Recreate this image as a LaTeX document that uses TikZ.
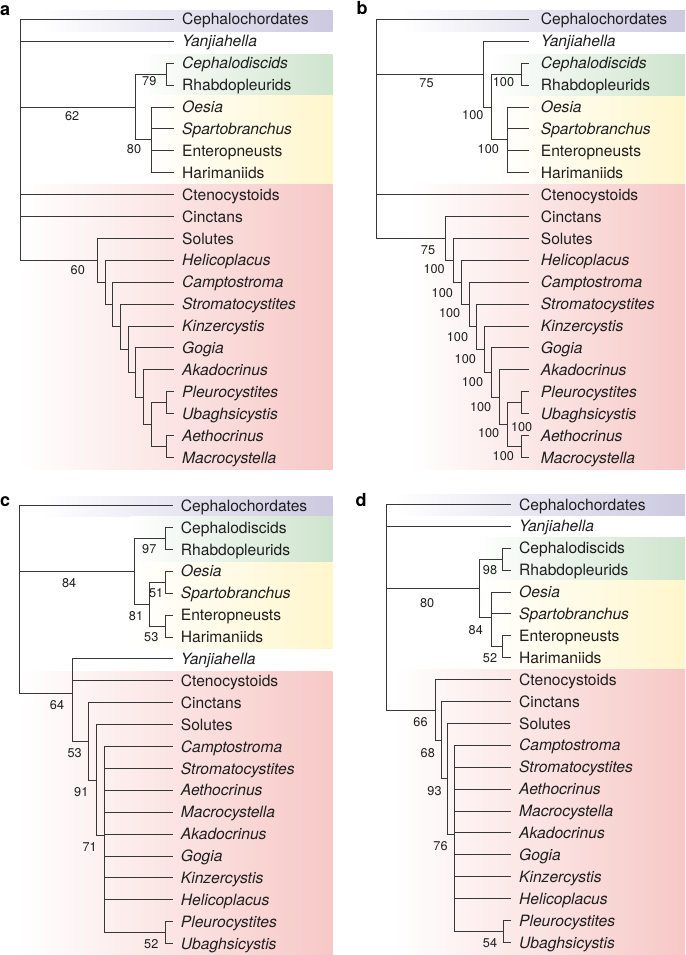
\documentclass[tikz,border=0pt]{standalone}
\usepackage{fontspec}
\setmainfont{TeX Gyre Heros}
\definecolor{bandP}{RGB}{204,201,224}
\definecolor{bandG}{RGB}{206,228,205}
\definecolor{bandY}{RGB}{255,246,204}
\definecolor{bandR}{RGB}{246,200,198}
\definecolor{brc}{RGB}{55,55,55}
\definecolor{txc}{RGB}{30,30,30}
\begin{document}
\begin{tikzpicture}[x=1pt,y=-1pt,
  br/.style={draw=brc, line width=0.95pt},
  tx/.style={anchor=base west, inner sep=0pt, yshift=-5.6pt, font=\fontsize{15.6}{18}\selectfont, text=txc},
  txi/.style={tx, font=\fontsize{15.6}{18}\selectfont\itshape},
  bs/.style={inner sep=0pt, font=\fontsize{12.7}{14}\selectfont, text=txc},
  plab/.style={anchor=base west, inner sep=0pt, font=\fontsize{18}{20}\selectfont\bfseries, text=black}]
\useasboundingbox (0,0) rectangle (685,955);
\fill[white] (0,0) rectangle (685,955);
\def\ya{19.4}
\def\yc{505.6}
\def\yd{504.4}
% ---------------- bands ----------------
% panel a
\shade[left color=white, right color=bandP] (40,10.7) rectangle (332.7,31.7);
\shade[left color=white, right color=bandG] (140,55) rectangle (332.7,95.7);
\shade[left color=white, right color=bandY] (140,95.7) rectangle (332.7,184.3);
\shade[left color=white, right color=bandR] (20,184.3) rectangle (332.7,469.3);
% panel b
\shade[left color=white, right color=bandP] (400,10.7) rectangle (685,31.7);
\shade[left color=white, right color=bandG] (490,55) rectangle (685,96.7);
\shade[left color=white, right color=bandY] (490,96.7) rectangle (685,184.3);
\shade[left color=white, right color=bandR] (410,184.3) rectangle (685,469.3);
% panel c
\shade[left color=white, right color=bandP] (40,496) rectangle (332.7,516.7);
\shade[left color=white, right color=bandG] (130,516.7) rectangle (332.7,561.7);
\shade[left color=white, right color=bandY] (130,562.5) rectangle (332.7,648.3);
\shade[left color=white, right color=bandR] (20,671) rectangle (332.7,955);
% panel d
\shade[left color=white, right color=bandP] (395,494) rectangle (685,515);
\shade[left color=white, right color=bandG] (475,537.3) rectangle (685,580);
\shade[left color=white, right color=bandY] (475,580) rectangle (685,668.3);
\shade[left color=white, right color=bandR] (395,669.3) rectangle (685,955);
% ---------------- panel letters ----------------
\node[plab] (la) at (0,15.7) {a};
\node[plab] (lb) at (356.5,15) {b};
\node[plab] (lc) at (0,506) {c};
\node[plab] (ld) at (355.5,506.7) {d};
% ---------------- panel a ----------------
\foreach \r/\n/\t/\s in {0/cepha/Cephalochordates/tx, 1/yanj/Yanjiahella/txi, 2/cdisc/Cephalodiscids/txi, 3/rhab/Rhabdopleurids/tx, 4/oes/Oesia/txi, 5/spa/Spartobranchus/txi, 6/ent/Enteropneusts/tx, 7/har/Harimaniids/tx, 8/cte/Ctenocystoids/tx, 9/cin/Cinctans/tx, 10/sol/Solutes/tx, 11/hel/Helicoplacus/txi, 12/cam/Camptostroma/txi, 13/str/Stromatocystites/txi, 14/kin/Kinzercystis/txi, 15/gog/Gogia/txi, 16/aka/Akadocrinus/txi, 17/ple/Pleurocystites/txi, 18/uba/Ubaghsicystis/txi, 19/aet/Aethocrinus/txi, 20/mac/Macrocystella/txi}{
  \coordinate (a-\n) at (174.3,{\ya+21.9*\r});
  \node[\s] (a-\n-l) at (182,{\ya+21.9*\r}) {\t};
}
\foreach \n/\x/\r in {root/20.7/0, X/135.7/4, CR/166/2.5, O/151.7/5.5, n1/97.3/11.0, n2/105.3/12.01, n3/112.7/13.02, n4/120.3/14.03, n5/128/15.06, n6/135.7/16.125, n7/143.3/17.25, n8/151/18.5, PU/166/17.5, AM/166/19.5}{
  \coordinate (a-\n) at (\x,{\ya+21.9*\r});
}
\foreach \p/\c in {root/cepha, root/yanj, root/X, root/cte, root/cin, root/n1, X/CR, X/O, CR/cdisc, CR/rhab, O/oes, O/spa, O/ent, O/har, n1/sol, n1/n2, n2/hel, n2/n3, n3/cam, n3/n4, n4/str, n4/n5, n5/kin, n5/n6, n6/gog, n6/n7, n7/aka, n7/n8, n8/PU, n8/AM, PU/ple, PU/uba, AM/aet, AM/mac}{
  \draw[br] (a-\p) |- (a-\c);
}
\node[bs] (a-s79) at (149.3,81) {79};
\node[bs] (a-s62) at (72.2,116.5) {62};
\node[bs] (a-s80) at (134,149.3) {80};
\node[bs] (a-s60) at (77.8,270) {60};
% ---------------- panel b ----------------
\foreach \r/\n/\t/\s in {0/cepha/Cephalochordates/tx, 1/yanj/Yanjiahella/txi, 2/cdisc/Cephalodiscids/txi, 3/rhab/Rhabdopleurids/tx, 4/oes/Oesia/txi, 5/spa/Spartobranchus/txi, 6/ent/Enteropneusts/tx, 7/har/Harimaniids/tx, 8/cte/Ctenocystoids/tx, 9/cin/Cinctans/tx, 10/sol/Solutes/tx, 11/hel/Helicoplacus/txi, 12/cam/Camptostroma/txi, 13/str/Stromatocystites/txi, 14/kin/Kinzercystis/txi, 15/gog/Gogia/txi, 16/aka/Akadocrinus/txi, 17/ple/Pleurocystites/txi, 18/uba/Ubaghsicystis/txi, 19/aet/Aethocrinus/txi, 20/mac/Macrocystella/txi}{
  \coordinate (b-\n) at (529.3,{\ya+21.9*\r});
  \node[\s] (b-\n-l) at (540.7,{\ya+21.9*\r}) {\t};
}
\foreach \n/\x/\r in {root/376.7/0, H/483.3/2.5, H2/491.7/4, CR/521.7/2.5, O/507.3/5.5, n1/445/10.0, n2/453.3/11.0, n3/461/12.01, n4/469/13.02, n5/476.7/14.03, n6/484.3/15.06, n7/491.7/16.125, n8/499.3/17.25, n9/507.3/18.5, PU/521.7/17.5, AM/521.7/19.5}{
  \coordinate (b-\n) at (\x,{\ya+21.9*\r});
}
\foreach \p/\c in {root/cepha, root/H, root/cte, root/n1, H/yanj, H/H2, H2/CR, H2/O, CR/cdisc, CR/rhab, O/oes, O/spa, O/ent, O/har, n1/cin, n1/n2, n2/sol, n2/n3, n3/hel, n3/n4, n4/cam, n4/n5, n5/str, n5/n6, n6/kin, n6/n7, n7/gog, n7/n8, n8/aka, n8/n9, n9/PU, n9/AM, PU/ple, PU/uba, AM/aet, AM/mac}{
  \draw[br] (b-\p) |- (b-\c);
}
\node[bs] (b-s75a) at (426.5,83) {75};
\node[bs] (b-s100a) at (503.5,82.5) {100};
\node[bs] (b-s100b) at (472.8,115) {100};
\node[bs] (b-s100c) at (488.3,149.3) {100};
\node[bs] (b-s75b) at (428,250) {75};
\foreach \i/\x/\y in {1/434.2/269.3, 2/442.3/292.7, 3/449.7/313.3, 4/457.5/337, 5/465.3/359.3, 6/472.5/381.7, 7/480.7/406.7, 8/521.7/426.7, 9/488.7/433.3, 10/503.3/455.7}{
  \node[bs] (b-t\i) at (\x,\y) {100};
}
% ---------------- panel c ----------------
\foreach \r/\n/\t/\s in {0/cepha/Cephalochordates/tx, 1/cdisc/Cephalodiscids/tx, 2/rhab/Rhabdopleurids/tx, 3/oes/Oesia/txi, 4/spa/Spartobranchus/txi, 5/ent/Enteropneusts/tx, 6/har/Harimaniids/tx, 7/yanj/Yanjiahella/txi, 8/cte/Ctenocystoids/tx, 9/cin/Cinctans/tx, 10/sol/Solutes/tx, 11/cam/Camptostroma/txi, 12/str/Stromatocystites/txi, 13/aet/Aethocrinus/txi, 14/mac/Macrocystella/txi, 15/aka/Akadocrinus/txi, 16/gog/Gogia/txi, 17/kin/Kinzercystis/txi, 18/hel/Helicoplacus/txi, 19/ple/Pleurocystites/txi, 20/uba/Ubaghsicystis/txi}{
  \coordinate (c-\n) at (173.3,{\yc+21.9*\r});
  \node[\s] (c-\n-l) at (180.7,{\yc+21.9*\r}) {\t};
}
\foreach \n/\x/\r in {root/19/0, H/134/3.0, R/72.7/8.59, CR/165.7/1.5, O/149.3/4.5, OS/165.7/3.5, EH/165.7/5.5, n2/88.3/10.77, n3/96/12.53, n4/104/15.06, PU/165.7/19.5}{
  \coordinate (c-\n) at (\x,{\yc+21.9*\r});
}
\foreach \p/\c in {root/cepha, root/H, root/R, H/CR, H/O, CR/cdisc, CR/rhab, O/OS, O/EH, OS/oes, OS/spa, EH/ent, EH/har, R/yanj, R/cte, R/n2, n2/cin, n2/n3, n3/sol, n3/n4, n4/cam, n4/str, n4/aet, n4/mac, n4/aka, n4/gog, n4/kin, n4/hel, n4/PU, PU/ple, PU/uba}{
  \draw[br] (c-\p) |- (c-\c);
}
\node[bs] (c-s97) at (149.3,549.3) {97};
\node[bs] (c-s84) at (69.2,582.7) {84};
\node[bs] (c-s51) at (156.2,593.3) {51};
\node[bs] (c-s81) at (136,615.7) {81};
\node[bs] (c-s53a) at (151.3,637.3) {53};
\node[bs] (c-s64) at (57,705) {64};
\node[bs] (c-s53b) at (74.7,753.3) {53};
\node[bs] (c-s91) at (81.3,791.7) {91};
\node[bs] (c-s71) at (89.7,847.3) {71};
\node[bs] (c-s52) at (151.3,944) {52};
% ---------------- panel d ----------------
\foreach \r/\n/\t/\s in {0/cepha/Cephalochordates/tx, 1/yanj/Yanjiahella/txi, 2/cdisc/Cephalodiscids/tx, 3/rhab/Rhabdopleurids/tx, 4/oes/Oesia/txi, 5/spa/Spartobranchus/txi, 6/ent/Enteropneusts/tx, 7/har/Harimaniids/tx, 8/cte/Ctenocystoids/tx, 9/cin/Cinctans/tx, 10/sol/Solutes/tx, 11/cam/Camptostroma/txi, 12/str/Stromatocystites/txi, 13/aet/Aethocrinus/txi, 14/mac/Macrocystella/txi, 15/aka/Akadocrinus/txi, 16/gog/Gogia/txi, 17/kin/Kinzercystis/txi, 18/hel/Helicoplacus/txi, 19/ple/Pleurocystites/txi, 20/uba/Ubaghsicystis/txi}{
  \coordinate (d-\n) at (510.7,{\yd+21.9*\r});
  \node[\s] (d-\n-l) at (519,{\yd+21.9*\r}) {\t};
}
\foreach \n/\x/\r in {root/386/0, H/479/3.83, R/435.7/9.39, CR/502.7/2.5, O/491.7/5.17, EH/502.7/6.5, n2/441.7/10.78, n3/447.7/12.53, n4/454.3/15.06, PU/503.3/19.5}{
  \coordinate (d-\n) at (\x,{\yd+21.9*\r});
}
\foreach \p/\c in {root/cepha, root/yanj, root/H, root/R, H/CR, H/O, CR/cdisc, CR/rhab, O/oes, O/spa, O/EH, EH/ent, EH/har, R/cte, R/n2, n2/cin, n2/n3, n3/sol, n3/n4, n4/cam, n4/str, n4/aet, n4/mac, n4/aka, n4/gog, n4/kin, n4/hel, n4/PU, PU/ple, PU/uba}{
  \draw[br] (d-\p) |- (d-\c);
}
\node[bs] (d-s98) at (490,569.7) {98};
\node[bs] (d-s80) at (427.2,603) {80};
\node[bs] (d-s84) at (475.8,629.7) {84};
\node[bs] (d-s52) at (490,658.3) {52};
\node[bs] (d-s66) at (420.5,722.3) {66};
\node[bs] (d-s68) at (427.8,752.7) {68};
\node[bs] (d-s93) at (434.5,791) {93};
\node[bs] (d-s76) at (440.5,846) {76};
\node[bs] (d-s54) at (490,942.7) {54};
\end{tikzpicture}
\end{document}
